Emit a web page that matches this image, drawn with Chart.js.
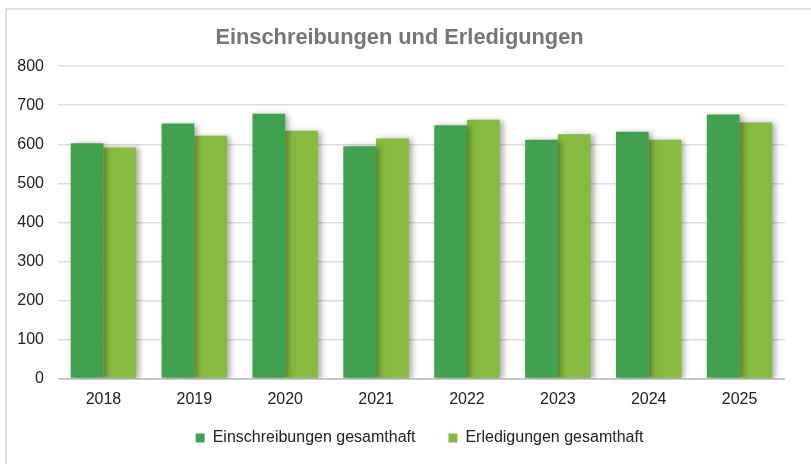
<!DOCTYPE html>
<html>
<head>
<meta charset="utf-8">
<script src="https://cdn.jsdelivr.net/npm/chart.js@4/dist/chart.umd.min.js"></script>
<style>
  html, body { margin: 0; padding: 0; background: #ffffff; }
  #wrap { position: relative; width: 811px; height: 464px; overflow: hidden; }
  #card { position: absolute; left: 5px; top: 8px; width: 820px; height: 470px;
          border-top: 2px solid #dedede; border-left: 2px solid #dedede; box-sizing: border-box; }
  #c { position: absolute; left: 0; top: 0; }
</style>
</head>
<body>
<div id="wrap">
  <div id="card"></div>
  <canvas id="c" width="811" height="464"></canvas>
</div>
<script>
const titleText = 'Einschreibungen und Erledigungen';
const categories = ['2018', '2019', '2020', '2021', '2022', '2023', '2024', '2025'];
const seriesNames = ['Einschreibungen gesamthaft', 'Erledigungen gesamthaft'];
const einschreibungen = [603, 653, 678, 595, 649, 612, 632, 676];
const erledigungen = [592, 622, 635, 615, 663, 626, 612, 656];
const yTicks = [0, 100, 200, 300, 400, 500, 600, 700, 800];

const FONT = "'Liberation Sans', Arial, sans-serif";

const shiftPlugin = {
  id: 'shiftBoxes',
  afterLayout(chart) {
    const t = chart.titleBlock;
    if (t) { t.left += 7; t.right += 7; }
    const l = chart.legend;
    if (l) { l.left += 27; l.right += 27; l.top -= 15; l.bottom -= 15; }
  }
};

const shadowPlugin = {
  id: 'barShadow',
  beforeDatasetsDraw(chart) {
    const ctx = chart.ctx;
    ctx.save();
    ctx.shadowColor = 'rgba(0,0,0,0.35)';
    ctx.shadowBlur = 6;
    ctx.shadowOffsetX = 3;
    ctx.shadowOffsetY = 1;
  },
  afterDatasetsDraw(chart) {
    chart.ctx.restore();
  }
};

new Chart(document.getElementById('c'), {
  type: 'bar',
  data: {
    labels: categories,
    datasets: [
      { label: seriesNames[0], data: einschreibungen, backgroundColor: '#40a14f', borderWidth: 0 },
      { label: seriesNames[1], data: erledigungen, backgroundColor: '#86bb3f', borderWidth: 0 }
    ]
  },
  options: {
    responsive: false,
    animation: false,
    devicePixelRatio: 1,
    datasets: { bar: { categoryPercentage: 0.72, barPercentage: 1.0 } },
    layout: { padding: { left: 0, right: 26, top: 0, bottom: -7 } },
    plugins: {
      title: {
        display: true,
        text: titleText,
        color: '#767676',
        font: { family: FONT, size: 21.8, weight: 'bold' },
        padding: { top: 25, bottom: 15 }
      },
      legend: {
        position: 'bottom',
        labels: {
          boxWidth: 9, boxHeight: 9, padding: 33,
          color: '#222222',
          font: { family: FONT, size: 16 }
        }
      },
      tooltip: { enabled: false }
    },
    scales: {
      x: {
        grid: { display: false },
        border: { display: false },
        ticks: { color: '#222222', font: { family: FONT, size: 16 }, padding: 3 }
      },
      y: {
        min: 0, max: 800,
        afterBuildTicks(scale) { scale.ticks = yTicks.map(v => ({ value: v })); },
        afterFit(scale) { scale.width = 58; },
        border: { display: false },
        grid: {
          drawTicks: false,
          color: (c) => c.tick && c.tick.value === 0 ? '#c8c8c8' : '#dedede',
          lineWidth: (c) => c.tick && c.tick.value === 0 ? 2 : 1.5
        },
        ticks: { color: '#222222', font: { family: FONT, size: 16 }, padding: 14 }
      }
    }
  },
  plugins: [shiftPlugin, shadowPlugin]
});
</script>
</body>
</html>
